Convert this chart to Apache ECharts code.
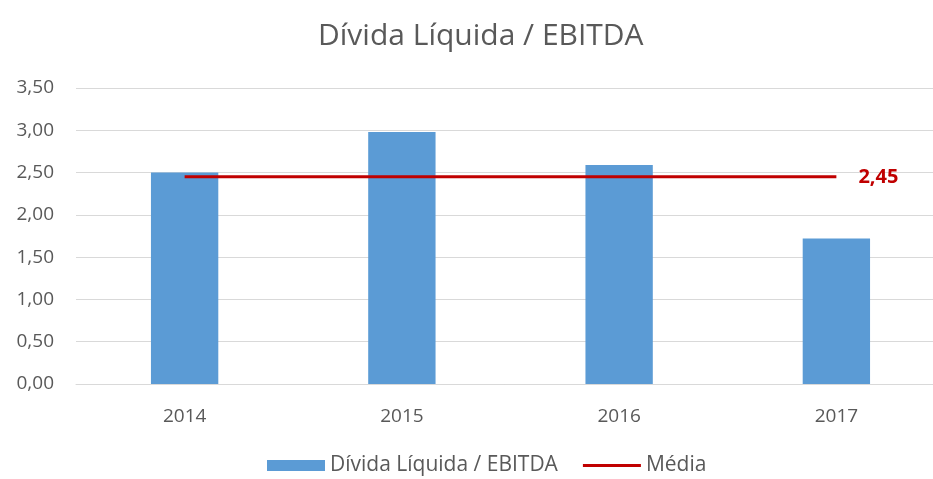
<!DOCTYPE html>
<html>
<head>
<meta charset="utf-8">
<script src="https://cdn.jsdelivr.net/npm/echarts@6/dist/echarts.min.js"></script>
<style>
  html, body { margin: 0; padding: 0; background: #ffffff; }
  #chart { width: 933px; height: 479px; }
</style>
</head>
<body>
<div id="chart"></div>
<script>
// Net debt / EBITDA by year, with the period average
const years = ['2014', '2015', '2016', '2017'];
const ratioValues = [2.50, 2.98, 2.59, 1.72];
const averageValue = 2.45;
const averageValues = [averageValue, averageValue, averageValue, averageValue];

const seriesBarName = 'Dívida Líquida / EBITDA';
const seriesLineName = 'Média';

const fmt = v => Number(v).toFixed(2).replace('.', ',');
const textColor = '#595959';
const red = '#C00000';
const fontFamily = '"Open Sans", "Noto Sans", sans-serif';

const chart = echarts.init(document.getElementById('chart'));
chart.setOption({
  animation: false,
  backgroundColor: '#ffffff',
  title: {
    text: 'Dívida Líquida / EBITDA',
    left: 318,
    top: 21,
    padding: 0,
    textStyle: { color: textColor, fontSize: 30, fontWeight: 'normal', fontFamily: fontFamily }
  },
  legend: {
    bottom: -2,
    left: 262,
    itemGap: 25,
    itemWidth: 58,
    itemHeight: 11,
    textStyle: { color: textColor, fontSize: 21, fontFamily: fontFamily },
    data: [
      { name: seriesBarName, icon: 'rect' },
      { name: seriesLineName, icon: 'path://M0,0H60V3H0Z' }
    ]
  },
  grid: { left: 76, width: 869, top: 88, bottom: 95, outerBoundsMode: 'none' },
  xAxis: {
    type: 'category',
    data: years,
    axisLine: { lineStyle: { color: '#D9D9D9' } },
    axisTick: { show: false },
    axisLabel: { color: textColor, fontSize: 19, margin: 23, fontFamily: fontFamily }
  },
  yAxis: {
    type: 'value',
    min: 0,
    max: 3.5,
    interval: 0.5,
    axisLine: { show: false },
    axisTick: { show: false },
    splitLine: { lineStyle: { color: '#D9D9D9' } },
    axisLabel: { color: textColor, fontSize: 19, margin: 22, fontFamily: fontFamily, formatter: fmt }
  },
  series: [
    {
      name: seriesBarName,
      type: 'bar',
      data: ratioValues,
      barWidth: '31%',
      itemStyle: { color: '#5B9BD5' }
    },
    {
      name: seriesLineName,
      type: 'line',
      data: averageValues,
      symbol: 'none',
      lineStyle: { color: red, width: 3 },
      itemStyle: { color: red },
      endLabel: {
        show: true,
        distance: 22,
        color: red,
        fontWeight: 'bold',
        fontSize: 20,
        fontFamily: fontFamily,
        formatter: p => fmt(p.value)
      }
    }
  ]
});
</script>
</body>
</html>
